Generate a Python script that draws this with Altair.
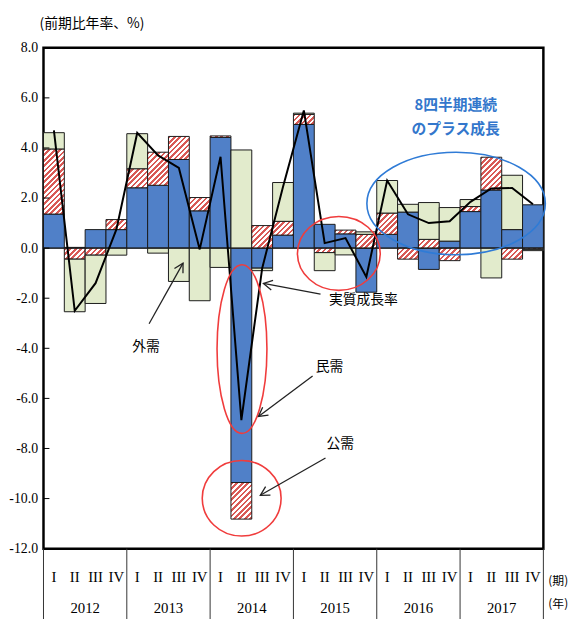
import math
import altair as alt
import pandas as pd

# ---------------- data ----------------
years = ["2012", "2013", "2014", "2015", "2016", "2017"]
quarter_labels = ["I", "II", "III", "IV"]
series_names = ["民需", "公需", "外需"]

private_demand = [1.36, 0.03, 0.74, 0.74, 2.41, 2.51, 3.54, 1.49,
                  4.42, -9.36, -0.80, 0.52, 4.94, 0.95, 0.57, -1.76,
                  0.55, 1.44, -0.85, 0.28, 1.46, 2.32, 0.74, 1.73]
public_demand = [2.60, -0.44, -0.28, 0.40, 0.76, 1.32, 0.92, 0.53,
                 0.06, -1.46, 0.90, 0.55, 0.40, -0.18, 0.15, 0.55,
                 0.85, -0.44, 0.35, -0.50, 0.20, 1.31, -0.44, -0.05]
external_demand = [0.65, -2.10, -1.93, -0.28, 1.40, -0.20, -1.33, -2.10,
                   -0.77, 3.92, -0.10, 1.55, 0.05, -0.72, -0.27, 0.10,
                   1.30, 0.31, 1.47, 1.34, 0.28, -1.19, 2.17, -0.05]
real_growth = [4.7, -2.5, -1.4, 0.75, 4.6, 3.7, 3.2, -0.05,
               3.65, -6.87, -0.8, 2.45, 5.5, 0.2, 0.4, -1.15,
               2.7, 1.35, 1.0, 1.07, 1.85, 2.38, 2.4, 1.75]
y_ticks = [-12, -10, -8, -6, -4, -2, 0, 2, 4, 6, 8]

# annotation texts (x in quarter index units, y in %)
ann_text = ["外需", "実質成長率", "民需", "公需"]
ann_x = [4.92, 15.36, 13.73, 14.25]
ann_y = [-3.97, -2.06, -4.74, -7.81]

# arrows: start -> tip
arrow_x1 = [5.07, 13.30, 12.92, 13.54]
arrow_y1 = [-3.02, -1.84, -5.11, -8.38]
arrow_x2 = [6.70, 10.56, 10.32, 10.41]
arrow_y2 = [-0.60, -1.41, -6.72, -9.87]

# ellipses: centre (data units) and radii (px)
ell_x = [19.81, 14.18, 9.53, 9.515]
ell_y = [1.78, -0.21, -4.03, -9.99]
ell_rx = [90.5, 42.0, 25.3, 40.0]
ell_ry = [52.0, 37.5, 85.5, 38.3]
ell_color = ["#2F7BD6", "#F03C3C", "#F03C3C", "#F03C3C"]

note_lines = ["8四半期連続", "のプラス成長"]
note_x = [19.79, 19.79]
note_y = [5.73, 4.74]

# ---------------- layout / style ----------------
W_PLOT, H_PLOT = 507, 508
X_DOM, Y_DOM = [0, 24], [-12, 8]
PXX = W_PLOT / (X_DOM[1] - X_DOM[0])
PXY = H_PLOT / (Y_DOM[1] - Y_DOM[0])
BLUE = "#5080C8"
GREEN = "#E2EBCC"
HATCH_RED = "#D95A56"

xs = alt.Scale(domain=X_DOM, nice=False, zero=False)
ys = alt.Scale(domain=Y_DOM, nice=False, zero=False)
Y_AXIS = alt.Axis(values=y_ticks, labelExpr="datum.value + '.0'", ticks=False, domain=False,
                  grid=False, labelFont="Liberation Serif", labelFontSize=14, labelColor="black",
                  labelPadding=6, title=None)


def Y(field):
    return alt.Y(field, scale=ys, axis=Y_AXIS)


def X(field):
    return alt.X(field, scale=xs, axis=None)


def hatch(value, period=5.5, frac=0.5):
    w = PXX
    h = max(abs(value) * PXY, 0.5)
    c = (w + h) / (w * w + h * h)
    n = (w + h) / period
    stops = []
    k = 0
    while k / n < 1:
        t0 = k / n
        t1 = min((k + frac) / n, 1)
        t2 = min((k + 1) / n, 1)
        stops += [{"offset": t0, "color": HATCH_RED}, {"offset": t1, "color": HATCH_RED},
                  {"offset": t1, "color": "#FFFFFF"}, {"offset": t2, "color": "#FFFFFF"}]
        k += 1
    return {"gradient": "linear", "x1": 0, "y1": 0, "x2": c * w, "y2": c * h, "stops": stops}


rows = []
for i in range(24):
    for k, (name, vals) in enumerate(zip(series_names, [private_demand, public_demand, external_demand])):
        v = vals[i]
        if k == 0:
            f = BLUE
        elif k == 1:
            f = hatch(v)
        else:
            f = GREEN
        rows.append({"i": i, "i2": i + 1, "series": name, "order": k, "value": v, "fill": f})

bars = alt.Chart(alt.Data(values=rows)).transform_stack(
    stack="value", as_=["y0", "y1"], groupby=["i"],
    sort=[alt.SortField("order", order="ascending")]
).mark_bar(stroke="#1a1a1a", strokeWidth=1).encode(
    x=X("i:Q"), x2="i2:Q", y=Y("y0:Q"), y2="y1:Q",
    fill=alt.Fill("fill:N", scale=None),
)

zero = alt.Chart(pd.DataFrame({"z": [0]})).mark_rule(color="#1a1a1a", strokeWidth=1).encode(
    y=Y("z:Q"))

line_df = pd.DataFrame({"i": list(range(24)), "g": real_growth})
line = alt.Chart(line_df).transform_calculate(xc="datum.i + 0.5").mark_line(
    color="black", strokeWidth=2).encode(x=X("xc:Q"), y=Y("g:Q"))

inner_ticks = alt.Chart(pd.DataFrame({"t": y_ticks})).mark_rule(color="black", strokeWidth=1).encode(
    y=Y("t:Q"), x=alt.value(0), x2=alt.value(6))

q_df = pd.DataFrame({"i": list(range(24)), "q": quarter_labels * len(years)})
q_text = alt.Chart(q_df).transform_calculate(xc="datum.i + 0.5").mark_text(
    font="Liberation Serif", fontSize=15, color="black", baseline="middle").encode(
    x=X("xc:Q"), y=alt.value(537), text="q:N")

y_df = pd.DataFrame({"k": list(range(len(years))), "yr": years})
y_text = alt.Chart(y_df).transform_calculate(xc="datum.k * 4 + 2").mark_text(
    font="Liberation Serif", fontSize=15, color="black", baseline="middle").encode(
    x=X("xc:Q"), y=alt.value(568), text="yr:N")

sep_df = pd.DataFrame({"k": list(range(len(years) + 1))})
seps = alt.Chart(sep_df).transform_calculate(xb="datum.k * 4").mark_rule(
    color="#333333", strokeWidth=1).encode(
    x=X("xb:Q"), y=alt.value(H_PLOT), y2=alt.value(H_PLOT + 80))


def ell_path(rx, ry):
    m = max(rx, ry)
    a, b = rx / m, ry / m
    return f"M {-a} 0 A {a} {b} 0 1 0 {a} 0 A {a} {b} 0 1 0 {-a} 0 Z"


ell_df = pd.DataFrame({
    "x": ell_x, "y": ell_y,
    "path": [ell_path(a, b) for a, b in zip(ell_rx, ell_ry)],
    "sz": [(2 * max(a, b)) ** 2 for a, b in zip(ell_rx, ell_ry)],
    "col": ell_color,
})
ellipses = alt.Chart(ell_df).mark_point(filled=False, opacity=1, strokeWidth=1.6).encode(
    x=X("x:Q"), y=Y("y:Q"),
    shape=alt.Shape("path:N", scale=None), size=alt.Size("sz:Q", scale=None),
    stroke=alt.Stroke("col:N", scale=None))

ang = []
for a1, b1, a2, b2 in zip(arrow_x1, arrow_y1, arrow_x2, arrow_y2):
    dx = (a2 - a1) * PXX
    dy = -(b2 - b1) * PXY
    ang.append(math.degrees(math.atan2(dy, dx)) % 360)
arr_df = pd.DataFrame({"x1": arrow_x1, "y1": arrow_y1, "x2": arrow_x2, "y2": arrow_y2, "ang": ang})
shafts = alt.Chart(arr_df).mark_rule(color="#222222", strokeWidth=1.3).encode(
    x=X("x1:Q"), y=Y("y1:Q"), x2="x2:Q", y2="y2:Q")
heads = alt.Chart(arr_df).mark_point(
    shape="M -1 -0.55 L 0 0 L -1 0.55", filled=False, size=324, strokeWidth=1.3,
    color="#222222", opacity=1).encode(
    x=X("x2:Q"), y=Y("y2:Q"), angle=alt.Angle("ang:Q", scale=None))

ann_df = pd.DataFrame({"x": ann_x, "y": ann_y, "t": ann_text})
ann = alt.Chart(ann_df).mark_text(font="Noto Sans CJK JP", fontSize=14, color="black",
                                   baseline="middle").encode(
    x=X("x:Q"), y=Y("y:Q"), text="t:N")

note_df = pd.DataFrame({"x": note_x, "y": note_y, "t": note_lines})
note = alt.Chart(note_df).mark_text(font="Noto Sans CJK JP", fontSize=15, fontWeight="bold",
                                     color="#3377CC", baseline="middle").encode(
    x=X("x:Q"), y=Y("y:Q"), text="t:N")

title = alt.Chart(pd.DataFrame({"t": ["(前期比年率、%)"]})).mark_text(
    font="Noto Sans CJK JP", fontSize=14, color="black", align="left", baseline="middle").encode(
    x=alt.value(-4), y=alt.value(-24), text="t:N")

unit_df = pd.DataFrame({"t": ["(期)", "(年)"], "yy": [541, 564]})
units = alt.Chart(unit_df).mark_text(
    font="Noto Sans CJK JP", fontSize=12, color="black", align="left", baseline="middle").encode(
    x=alt.value(512), y=alt.Y("yy:Q", scale=None), text="t:N")

chart = alt.layer(
    bars, zero, line, inner_ticks, seps, q_text, y_text, ellipses, shafts, heads,
    ann, note, title, units
).properties(
    width=W_PLOT, height=H_PLOT,
    padding={"left": 36, "top": 36, "right": 27, "bottom": 67},
    autosize=alt.AutoSizeParams(type="none"),
).configure_view(stroke="black", strokeWidth=2.5)

chart.save("out.html", embed_options={"renderer": "svg", "actions": False})
